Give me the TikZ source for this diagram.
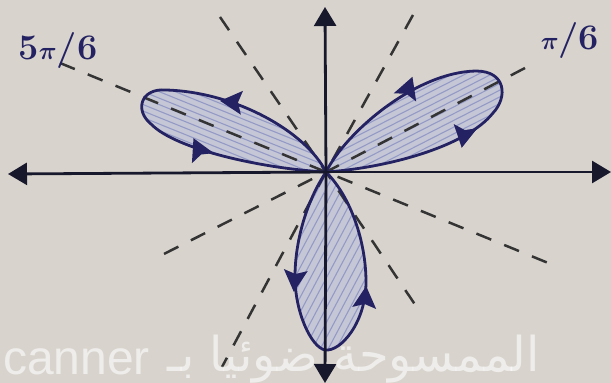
\documentclass[tikz,border=0pt]{standalone}
\usepackage{fontspec}
\usetikzlibrary{arrows.meta}
\newfontfamily\arabicfont[Script=Arabic]{DejaVu Sans}
\newfontfamily\wmfont{Liberation Sans}
\TeXXeTstate=1
\definecolor{paper}{RGB}{216,212,205}
\definecolor{inkblue}{RGB}{36,34,98}
\definecolor{axisink}{RGB}{24,24,44}
\definecolor{dashink}{RGB}{52,52,52}
\definecolor{petalfill}{RGB}{198,199,214}
\definecolor{hatchink}{RGB}{148,154,198}
\newcommand\petalarrow[2]{\fill[inkblue, shift={#1}, rotate=#2] (13,0) -- (-9,12) -- (-5,0) -- (-9,-12) -- cycle;}
\def\petalA{(0,0) .. controls (20,40) and (90,100) .. (150,101) .. controls (180,101) and (182,75) .. (167,59) .. controls (140,25) and (60,4) .. (0,0) -- cycle}
\def\petalB{(0,0) .. controls (-20,40) and (-90,80) .. (-160,82) .. controls (-185,84) and (-192,62) .. (-175,48) .. controls (-150,22) and (-60,3) .. (0,0) -- cycle}
\def\petalC{(0,0) .. controls (-20,-30) and (-31,-70) .. (-31,-105) .. controls (-31,-140) and (-15,-175) .. (-1,-178) .. controls (15,-180) and (40,-150) .. (40,-110) .. controls (40,-70) and (25,-25) .. (0,0) -- cycle}
\begin{document}
\begin{tikzpicture}[x=1pt,y=1pt,
  petal/.style={draw=inkblue, line width=2.8pt, line join=round},
  hatch/.style={draw=hatchink, line width=1.1pt},
  guide/.style={draw=dashink, line width=2.5pt, dash pattern=on 16pt off 14pt},
  axis/.style={draw=axisink, line width=2.8pt, -{Triangle[length=19pt,width=22pt]}},
  lbl/.style={text=inkblue, font=\fontsize{36}{42}\selectfont\bfseries\boldmath, inner sep=0pt},
  wm/.style={text=white, opacity=0.6, inner sep=0pt}]
\fill[paper] (-326,-211) rectangle (285,172);
\useasboundingbox (-326,-211) rectangle (285,172);
\coordinate (O) at (0,0);
% petal fills with hatching
\fill[petalfill] \petalA;
\fill[petalfill] \petalB;
\fill[petalfill] \petalC;
\begin{scope}
  \clip \petalA;
  \foreach \i in {-60,-54,...,60} \draw[hatch, rotate=27] (-10,\i) -- (230,\i);
\end{scope}
\begin{scope}
  \clip \petalB;
  \foreach \i in {-60,-54,...,60} \draw[hatch, rotate=-22] (-230,\i) -- (10,\i);
\end{scope}
\begin{scope}
  \clip \petalC;
  \foreach \i in {-120,-113,...,120} \draw[hatch, rotate=62] (-200,\i) -- (10,\i);
\end{scope}
% dashed guide lines
\coordinate (g1a) at (-106,155); \coordinate (g1b) at (94,-140);
\coordinate (g2a) at (87,157);   \coordinate (g2b) at (-104,-195);
\coordinate (g3a) at (199,104);  \coordinate (g3b) at (-174,-88);
\coordinate (g4a) at (-266,109); \coordinate (g4b) at (232,-95);
\draw[guide] (g1a) -- (O) -- (g1b);
\draw[guide] (g2a) -- (O) -- (g2b);
\draw[guide] (g3a) -- (O) -- (g3b);
\draw[guide] (g4a) -- (O) -- (g4b);
% petal outlines
\draw[petal] \petalA;
\draw[petal] \petalB;
\draw[petal] \petalC;
% arrowheads on petals
\petalarrow{(82,83)}{70}
\petalarrow{(138,37)}{-100}
\petalarrow{(-93,70)}{175}
\petalarrow{(-127,22)}{115}
\petalarrow{(-31,-107)}{-95}
\petalarrow{(39,-127)}{85}
% axes
\coordinate (xl) at (-318,-2); \coordinate (xr) at (285,0);
\coordinate (yt) at (-1,165);  \coordinate (yb) at (-1,-211);
\draw[axis] (O) -- (xl);
\draw[axis] (O) -- (xr);
\draw[axis] (O) -- (yt);
\draw[axis] (O) -- (yb);
% labels
\node[lbl] (l1) at (-268,121) {5$\pi$/6};
\node[lbl] (l2) at (244,131) {$\pi$/6};
% watermark
\node[wm, anchor=base east, font=\wmfont\fontsize{48}{54}\selectfont] (w1) at (-176,-202) {canner};
\node[wm, anchor=base east, font=\arabicfont\fontsize{48}{54}\selectfont] (w2) at (214,-199) {\beginR الممسوحة ضوئيا بـ\endR};
\end{tikzpicture}
\end{document}
